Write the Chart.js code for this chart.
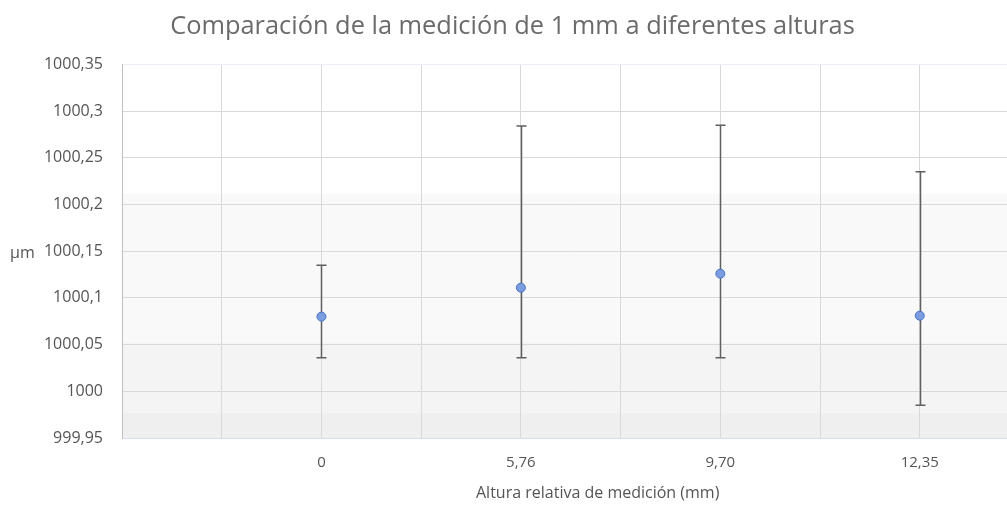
<!DOCTYPE html>
<html lang="es">
<head>
<meta charset="utf-8">
<title>Comparación de la medición de 1 mm a diferentes alturas</title>
<script src="https://cdn.jsdelivr.net/npm/chart.js@4/dist/chart.umd.min.js"></script>
<style>
  html, body { margin: 0; padding: 0; background: #ffffff; overflow: hidden; }
  #wrap { width: 1025px; height: 505px; }
</style>
</head>
<body>
<div id="wrap"><canvas id="chart" width="1025" height="505"></canvas></div>
<script>
// Alturas relativas de medición (etiquetas del eje X)
const categories = ['0', '5,76', '9,70', '12,35'];
// Valor medio medido (µm) para cada altura
const means = [1000.080, 1000.111, 1000.126, 1000.081];
// Extremos superior e inferior de las barras de error (µm)
const upper = [1000.135, 1000.284, 1000.285, 1000.235];
const lower = [1000.036, 1000.036, 1000.036, 999.985];
// Rango y paso del eje Y
const yMin = 999.95;
const yMax = 1000.35;
const yStep = 0.05;

const FONT = '"Open Sans", "Liberation Sans", sans-serif';
const TEXT = '#555555';

const points = means.map((v, i) => ({ x: i, y: v }));

// Relleno del área de trazado en franjas grises
const plotBackground = {
  id: 'plotBackground',
  beforeDraw(chart) {
    const { ctx, chartArea: a } = chart;
    const g = ctx.createLinearGradient(0, a.top, 0, a.bottom);
    g.addColorStop(0, '#ffffff');
    g.addColorStop(0.345, '#ffffff');
    g.addColorStop(0.346, '#f9f9f9');
    g.addColorStop(0.744, '#f9f9f9');
    g.addColorStop(0.745, '#f4f4f4');
    g.addColorStop(0.932, '#f4f4f4');
    g.addColorStop(0.933, '#efefef');
    g.addColorStop(1, '#efefef');
    ctx.save();
    ctx.fillStyle = g;
    ctx.fillRect(a.left, a.top, a.right - a.left, a.bottom - a.top);
    ctx.restore();
  }
};

// Barras de error con remate horizontal
const errorBars = {
  id: 'errorBars',
  beforeDatasetsDraw(chart) {
    const { ctx, scales: { x, y } } = chart;
    const cap = 5;
    ctx.save();
    ctx.strokeStyle = '#5f5f5f';
    ctx.lineWidth = 1.5;
    means.forEach((m, i) => {
      const px = Math.round(x.getPixelForValue(i)) + 0.5;
      const top = y.getPixelForValue(upper[i]);
      const bot = y.getPixelForValue(lower[i]);
      ctx.beginPath();
      ctx.moveTo(px, top);
      ctx.lineTo(px, bot);
      ctx.moveTo(px - cap, top);
      ctx.lineTo(px + cap, top);
      ctx.moveTo(px - cap, bot);
      ctx.lineTo(px + cap, bot);
      ctx.stroke();
    });
    ctx.restore();
  }
};

// Títulos de los ejes
const axisTitles = {
  id: 'axisTitles',
  afterDraw(chart) {
    const { ctx, chartArea: a } = chart;
    ctx.save();
    ctx.fillStyle = TEXT;
    ctx.font = '16px ' + FONT;
    ctx.textBaseline = 'middle';
    ctx.textAlign = 'left';
    ctx.fillText('µm', 10, (a.top + a.bottom) / 2 + 2);
    ctx.textAlign = 'center';
    ctx.fillText('Altura relativa de medición (mm)', a.left + (a.right - a.left) * 0.53, 493);
    ctx.restore();
  }
};

new Chart(document.getElementById('chart'), {
  type: 'scatter',
  data: {
    datasets: [{
      label: 'Medición',
      data: points,
      showLine: false,
      pointRadius: 4.5,
      pointHoverRadius: 4.5,
      pointBorderWidth: 1,
      pointBackgroundColor: '#7b9ddf',
      pointBorderColor: '#4472c4'
    }]
  },
  options: {
    responsive: false,
    animation: false,
    devicePixelRatio: 1,
    layout: { padding: { left: 0, right: 0, top: 0, bottom: 0 } },
    plugins: {
      legend: { display: false },
      tooltip: { enabled: false },
      title: {
        display: true,
        text: 'Comparación de la medición de 1 mm a diferentes alturas',
        color: '#6b6b6b',
        font: { family: FONT, size: 25.4, weight: 'normal' },
        padding: { top: 12, bottom: 22 }
      }
    },
    scales: {
      x: {
        type: 'linear',
        min: -1,
        max: 3.5,
        afterFit(scale) {
          scale.height = 67;
          scale.paddingLeft = 0;
          scale.paddingRight = 0;
        },
        grid: {
          color: '#d9d9d9',
          lineWidth: 1,
          drawTicks: false
        },
        border: { display: true, color: '#d6ddf0', width: 1 },
        ticks: {
          stepSize: 0.5,
          autoSkip: false,
          maxRotation: 0,
          padding: 16,
          color: TEXT,
          font: { family: FONT, size: 15 },
          callback(v) {
            return (Number.isInteger(v) && v >= 0 && v < categories.length) ? categories[v] : '';
          }
        }
      },
      y: {
        type: 'linear',
        min: yMin,
        max: yMax,
        afterFit(scale) { scale.width = 122; },
        grid: {
          color(ctx) {
            return (ctx.tick && Math.abs(ctx.tick.value - yMax) < 1e-6) ? '#eceff7' : '#d9d9d9';
          },
          lineWidth: 1,
          drawTicks: false
        },
        border: { display: true, color: '#bfbfbf', width: 1 },
        ticks: {
          stepSize: yStep,
          padding: 19,
          color: TEXT,
          font: { family: FONT, size: 16 },
          callback(v) {
            return (Math.round(v * 100) / 100).toString().replace('.', ',');
          }
        }
      }
    }
  },
  plugins: [plotBackground, errorBars, axisTitles]
});
</script>
</body>
</html>
